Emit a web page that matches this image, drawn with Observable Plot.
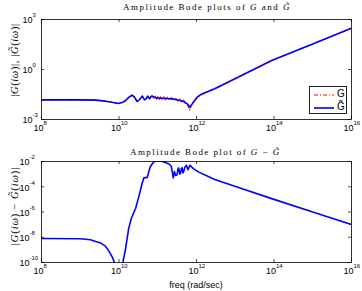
<!DOCTYPE html>
<html><head><meta charset="utf-8">
<script src="https://cdn.jsdelivr.net/npm/d3@7"></script>
<script src="https://cdn.jsdelivr.net/npm/@observablehq/plot@0.6"></script>
<style>
html,body{margin:0;padding:0;background:#fff;}
#fig{position:relative;width:362px;height:291px;overflow:hidden;background:#fff;font-family:"Liberation Sans",Arial,sans-serif;color:#000;}
.panel{position:absolute;left:0;}
.title{position:absolute;white-space:nowrap;font-family:"Liberation Serif","DejaVu Serif",serif;font-size:9px;line-height:10px;transform:translateY(-50%);}
.ylab{position:absolute;white-space:nowrap;font-family:"Liberation Serif","DejaVu Serif",serif;font-size:10.5px;line-height:11px;transform:translate(-50%,-50%) rotate(-90deg);}
.xlab{position:absolute;white-space:nowrap;font-size:9px;line-height:10px;transform:translate(-50%,-50%);}
.legend{position:absolute;left:309px;top:86px;width:38px;height:28px;border:1px solid #222;background:#fff;box-sizing:border-box;}
.legend .row{position:absolute;left:3px;height:12px;width:34px;}
.legend .lbl{position:absolute;left:24px;top:-1px;font-size:10px;line-height:12px;}
</style>
</head><body>
<div id="fig">
  <div class="panel" id="top" style="top:0"></div>
  <div class="panel" id="bot" style="top:145px"></div>
  <div class="title" id="t1" style="left:123px;top:7px">Amplitude Bode plots of <i>G</i> and <i>G̃</i></div>
  <div class="title" id="t2" style="left:130px;top:152px">Amplitude Bode plot of <i>G</i> − <i>G̃</i></div>
  <div class="ylab" id="y1" style="left:14px;top:60px">|<i>G</i>(<i>iω</i>)|, |<i>G̃</i>(<i>iω</i>)|</div>
  <div class="ylab" id="y2" style="left:14px;top:206px">|<i>G</i>(<i>iω</i>) − <i>G̃</i>(<i>iω</i>)|</div>
  <div class="xlab" style="left:196px;top:285px">freq (rad/sec)</div>
  <div class="legend">
    <div class="row" style="top:2px"><svg width="22" height="12" style="position:absolute;left:0;top:0"><line x1="1" y1="6" x2="21" y2="6" stroke="#ff0000" stroke-width="1" stroke-dasharray="4,2,1,2"/></svg><span class="lbl">G</span></div>
    <div class="row" style="top:15px"><svg width="22" height="12" style="position:absolute;left:0;top:0"><line x1="1" y1="6" x2="21" y2="6" stroke="#0000ff" stroke-width="1.6"/></svg><span class="lbl">G̃</span></div>
  </div>
</div>
<script>
// ---- data (log10 of frequency, log10 of magnitude) ----
const gTildeFreqLog = [8.0, 9.0, 9.4, 9.65, 9.85, 9.99, 10.1, 10.17, 10.26, 10.34, 10.40, 10.47, 10.53, 10.60, 10.66, 10.70, 10.74, 10.79, 10.83, 10.86, 10.95, 11.07, 11.25, 11.41, 11.55, 11.67, 11.76, 11.83, 11.89, 11.95, 12.02, 12.10, 12.25, 12.47, 13.2, 13.94, 15.0, 16.0];
const gTildeMagLog  = [-1.82, -1.82, -1.84, -1.90, -1.98, -2.04, -1.96, -1.86, -1.66, -1.54, -1.66, -1.92, -1.80, -1.60, -1.82, -1.76, -1.60, -1.76, -1.60, -1.62, -1.70, -1.72, -1.74, -1.78, -1.84, -1.92, -2.06, -2.26, -2.06, -1.86, -1.66, -1.52, -1.36, -1.16, -0.32, 0.54, 1.53, 2.48];

const gFreqLog = [8.0, 9.0, 9.4, 9.65, 9.85, 9.99, 10.1, 10.17, 10.26, 10.34, 10.40, 10.47, 10.53, 10.60, 10.66, 10.70, 10.74, 10.79, 10.83, 10.86, 10.90, 10.93, 10.97, 11.00, 11.04, 11.07, 11.11, 11.15, 11.20, 11.25, 11.30, 11.35, 11.41, 11.46, 11.52, 11.57, 11.62, 11.67, 11.72, 11.76, 11.80, 11.83, 11.86, 11.89, 11.95, 12.02, 12.10, 12.25, 12.47, 13.2, 13.94, 15.0, 16.0];
const gMagLog  = [-1.82, -1.82, -1.84, -1.90, -1.98, -2.04, -1.96, -1.86, -1.66, -1.54, -1.66, -1.92, -1.80, -1.60, -1.82, -1.76, -1.60, -1.76, -1.60, -1.56, -1.72, -1.58, -1.78, -1.62, -1.80, -1.64, -1.78, -1.64, -1.82, -1.66, -1.82, -1.68, -1.84, -1.70, -1.90, -1.76, -1.94, -1.84, -2.06, -2.06, -2.32, -2.44, -2.16, -2.04, -1.86, -1.66, -1.52, -1.36, -1.16, -0.32, 0.54, 1.53, 2.48];

const errFreqLog = [8.0, 9.0, 9.26, 9.52, 9.65, 9.74, 9.83, 9.91, 9.96, 10.0, 10.05, 10.10, 10.17, 10.25, 10.32, 10.43, 10.51, 10.60, 10.64, 10.73, 10.77, 10.81, 10.90, 10.96, 11.03, 11.10, 11.16, 11.29, 11.35, 11.38, 11.40, 11.43, 11.46, 11.50, 11.52, 11.54, 11.57, 11.59, 11.61, 11.63, 11.65, 11.67, 11.70, 11.74, 11.78, 11.83, 11.88, 11.93, 12.06, 12.47, 13.2, 13.94, 15.0, 16.0];
const errMagLog  = [-8.10, -8.12, -8.20, -8.45, -8.70, -9.10, -9.60, -10.2, -10.8, -11.5, -10.8, -10.0, -8.9, -7.3, -6.5, -5.7, -4.8, -3.7, -3.3, -3.26, -2.8, -2.4, -2.02, -1.98, -1.94, -1.98, -2.04, -2.20, -2.38, -2.90, -3.30, -2.80, -3.10, -3.05, -2.60, -2.50, -3.00, -2.90, -2.55, -2.50, -2.90, -2.80, -2.45, -2.30, -2.65, -2.30, -2.45, -2.58, -2.84, -3.42, -4.17, -4.94, -6.00, -7.00];

const xTicks = [1e8, 1e10, 1e12, 1e14, 1e16];
const xTickExp = ["8", "10", "12", "14", "16"];
const topYTicks = [1e-3, 1e0, 1e3];
const topYExp = ["-3", "0", "3"];
const botYTicks = [1e-10, 1e-8, 1e-6, 1e-4, 1e-2];
const botYExp = ["-10", "-8", "-6", "-4", "-2"];

const pts = (fl, ml) => fl.map((f, i) => ({f: Math.pow(10, f), m: Math.pow(10, ml[i])}));
const gTilde = pts(gTildeFreqLog, gTildeMagLog);
const gData = pts(gFreqLog, gMagLog);
const errData = pts(errFreqLog, errMagLog);

const W = 362, ML = 41, MR = 11;
const PW = W - ML - MR;

function decor(yTicks, yExp, PH, labDx) {
  const idx = (arr) => arr.map((v, i) => ({v, e: i}));
  return [
    Plot.frame({stroke: "#000", strokeWidth: 0.8}),
    Plot.tickX(xTicks, {x: d => d, insetTop: PH - 3, stroke: "#000", strokeWidth: 0.7}),
    Plot.tickX(xTicks, {x: d => d, insetBottom: PH - 3, stroke: "#000", strokeWidth: 0.7}),
    Plot.tickY(yTicks, {y: d => d, insetRight: PW - 3, stroke: "#000", strokeWidth: 0.7}),
    Plot.tickY(yTicks, {y: d => d, insetLeft: PW - 3, stroke: "#000", strokeWidth: 0.7}),
    Plot.text(idx(xTicks), {x: d => d.v, text: () => "10", frameAnchor: "bottom", dy: 11, dx: -3, fontSize: 9, fill: "#000"}),
    Plot.text(idx(xTicks), {x: d => d.v, text: d => xTickExp[d.e], frameAnchor: "bottom", textAnchor: "start", dy: 5, dx: 2, fontSize: 6, fill: "#000"}),
    Plot.text(idx(yTicks), {y: d => d.v, text: () => "10", frameAnchor: "left", textAnchor: "end", dx: labDx, dy: 1, fontSize: 9, fill: "#000"}),
    Plot.text(idx(yTicks), {y: d => d.v, text: d => yExp[d.e], frameAnchor: "left", textAnchor: "start", dx: labDx, dy: -4, fontSize: 6, fill: "#000"})
  ];
}

const style = {background: "transparent", fontFamily: "'Liberation Sans', Arial, sans-serif", color: "#000", overflow: "visible"};

const topPH = 145 - 19 - 26;
const topPlot = Plot.plot({
  width: W, height: 145, marginLeft: ML, marginRight: MR, marginTop: 19, marginBottom: 26,
  style,
  x: {type: "log", domain: [1e8, 1e16], axis: null},
  y: {type: "log", domain: [1e-3, 1e3], axis: null},
  marks: [
    Plot.line(gData, {x: "f", y: "m", stroke: "#ff0000", strokeWidth: 1.1, strokeDasharray: "4,2,1,2", clip: true}),
    Plot.line(gTilde, {x: "f", y: "m", stroke: "#0000ff", strokeWidth: 1.6, clip: true}),
    ...decor(topYTicks, topYExp, topPH, -9)
  ]
});
document.getElementById("top").appendChild(topPlot);

const botPH = 146 - 16 - 29;
const botPlot = Plot.plot({
  width: W, height: 146, marginLeft: ML, marginRight: MR, marginTop: 16, marginBottom: 29,
  style,
  x: {type: "log", domain: [1e8, 1e16], axis: null},
  y: {type: "log", domain: [1e-10, 1e-2], axis: null},
  marks: [
    Plot.line(errData, {x: "f", y: "m", stroke: "#0000ff", strokeWidth: 1.6, clip: true}),
    ...decor(botYTicks, botYExp, botPH, -12)
  ]
});
document.getElementById("bot").appendChild(botPlot);

// stretch titles and y labels to the length they span in the reference
function fit(id, target) {
  const el = document.getElementById(id);
  const txt = el.textContent.length;
  const w = el.offsetWidth;
  el.style.letterSpacing = ((target - w) / Math.max(1, txt - 1)) + "px";
}
fit("t1", 168);
fit("t2", 151);
fit("y1", 74);
fit("y2", 78);
</script>
</body></html>
